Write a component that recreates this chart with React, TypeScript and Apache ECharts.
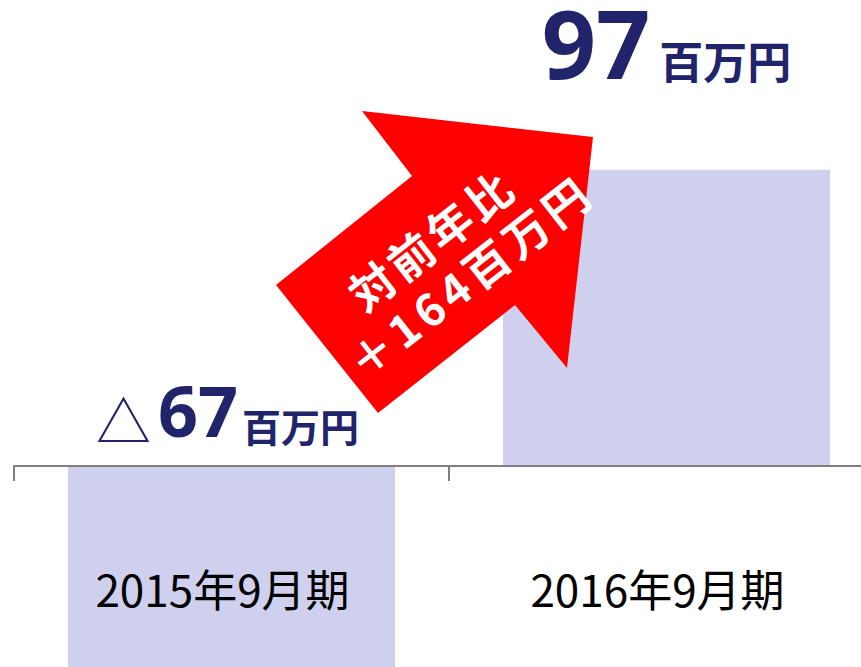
import React, { useEffect, useRef } from "react";
import * as echarts from "echarts";

const categories = ["2015年9月期", "2016年9月期"];
const values = [-67, 97];
const unitText = "百万円";
const arrowLine1 = "対前年比";
const arrowLine2 = "＋164百万円";

const NAVY = "#22246b";
const BAR = "#cfd0ee";

function charAdvance(ch: string, cjk: number, digit: number) {
  return /[0-9]/.test(ch) ? digit : cjk;
}

function lineChildren(text: string, centerX: number, y: number, cjk: number, digit: number) {
  const chars = Array.from(text);
  const advances = chars.map((c) => charAdvance(c, cjk, digit));
  const total = advances.reduce((a, b) => a + b, 0);
  let cursor = centerX - total / 2;
  return chars.map((ch, i) => {
    const cx = cursor + advances[i] / 2;
    cursor += advances[i];
    return {
      type: "text",
      z: 110,
      x: cx,
      y,
      style: {
        text: ch,
        fill: "#ffffff",
        fontSize: 45,
        fontWeight: "bold",
        fontFamily: "Noto Sans CJK JP",
        align: "center",
        verticalAlign: "middle",
      },
    };
  });
}

export default function App() {
  const ref = useRef<HTMLDivElement>(null);
  useEffect(() => {
    if (!ref.current) return;
    const chart = echarts.init(ref.current, null, { renderer: "svg" });
    const option: any = {
      animation: false,
      grid: { left: 14, width: 870, top: 130, height: 336, outerBoundsMode: "none", containLabel: false },
      xAxis: {
        type: "category",
        z: 5,
        data: categories,
        axisLine: { onZero: false, lineStyle: { color: "#808080", width: 2 } },
        axisTick: { show: true, length: 15, lineStyle: { color: "#808080", width: 2 } },
        axisLabel: {
          margin: 100,
          fontSize: 44,
          fontFamily: "Noto Sans CJK JP",
          color: "#000000",
          padding: [0, 18, 0, 0],
        },
        splitLine: { show: false },
      },
      yAxis: { type: "value", min: 0, max: 110, show: false, splitLine: { show: false } },
      series: [
        {
          type: "bar",
          z: 2,
          clip: false,
          barWidth: "75.2%",
          itemStyle: { color: BAR },
          data: values.map((v) => ({
            value: v,
            label: {
              show: true,
              position: "top",
              distance: v < 0 ? 21 : 80,
              offset: v < 0 ? [-4, 0] : [0, 0],
              formatter: v < 0
                ? `{tri|△}{neg|${Math.abs(v)}}{u1|${unitText}}`
                : `{big|${v}}{u2|${unitText}}`,
              rich: {
                tri: { fontSize: 55, fontFamily: "Noto Sans CJK JP", color: NAVY, verticalAlign: "bottom", lineHeight: 70, padding: [0, 7, 0, 0] },
                neg: { fontSize: 70, fontWeight: "bold", fontFamily: "Noto Sans", color: NAVY, verticalAlign: "bottom", lineHeight: 70 },
                u1: { fontSize: 39, fontWeight: "bold", fontFamily: "Noto Sans CJK JP", color: NAVY, verticalAlign: "bottom", lineHeight: 70, padding: [0, 0, 1, 4] },
                big: { fontSize: 95, fontWeight: "bold", fontFamily: "Noto Sans", color: NAVY, verticalAlign: "bottom", lineHeight: 80 },
                u2: { fontSize: 44, fontWeight: "bold", fontFamily: "Noto Sans CJK JP", color: NAVY, verticalAlign: "bottom", lineHeight: 80, padding: [0, 0, 8, 9] },
              },
            },
          })),
        },
      ],
      graphic: [
        {
          type: "polygon",
          z: 100,
          shape: {
            points: [
              [593, 137],
              [567, 368],
              [515, 305],
              [378, 413],
              [276, 285],
              [412, 176],
              [362, 111],
            ],
          },
          style: { fill: "#ff0000" },
        },
        {
          type: "group",
          z: 110,
          x: 440,
          y: 260,
          rotation: (38 * Math.PI) / 180,
          children: [
            ...lineChildren(arrowLine1, 4, -23, 49, 32),
            ...lineChildren(arrowLine2, 11, 30, 50, 32),
          ],
        },
      ],
    };
    chart.setOption(option);
    return () => chart.dispose();
  }, []);
  return (
    <div
      ref={ref}
      style={{ position: "absolute", left: 0, top: 0, width: 861, height: 667 }}
    />
  );
}
